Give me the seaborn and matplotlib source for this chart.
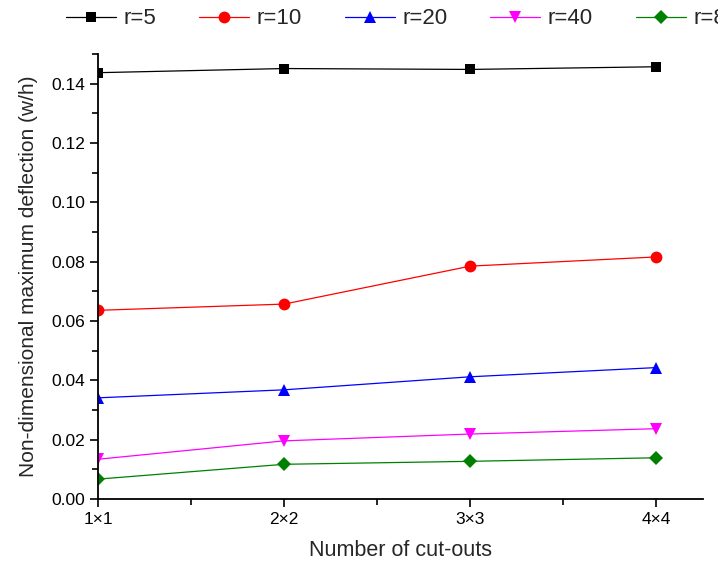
import matplotlib
matplotlib.use("Agg")
import matplotlib.pyplot as plt
from matplotlib.ticker import MultipleLocator, FormatStrFormatter
import seaborn as sns
import pandas as pd

categories = ["1×1", "2×2", "3×3", "4×4"]
series_names = ["r=5", "r=10", "r=20", "r=40", "r=80"]
r5 = [0.1437, 0.1451, 0.1448, 0.1457]
r10 = [0.0636, 0.0657, 0.0785, 0.0816]
r20 = [0.0341, 0.0368, 0.0412, 0.0443]
r40 = [0.0134, 0.0196, 0.0219, 0.0237]
r80 = [0.0067, 0.0117, 0.0127, 0.0139]
values = [r5, r10, r20, r40, r80]

colors = ["#000000", "#FF0000", "#0000FF", "#FF00FF", "#008000"]
markers = ["s", "o", "^", "v", "D"]
msizes = [7.5, 8.5, 8.5, 8.5, 7.5]

rows = []
for name, vals in zip(series_names, values):
    for i, v in enumerate(vals):
        rows.append({"pos": i, "val": v, "series": name})
df = pd.DataFrame(rows)

sns.set_style("ticks")
plt.rcParams["font.family"] = ["Liberation Sans", "DejaVu Sans"]

fig = plt.figure(figsize=(7.18, 5.63), dpi=100)
ax = fig.add_axes([98/718, 1-499/563, (703-98)/718, (499-54)/563])

for name, col, mk, ms in zip(series_names, colors, markers, msizes):
    sub = df[df["series"] == name]
    sns.lineplot(data=sub, x="pos", y="val", color=col, marker=mk,
                 markersize=ms, markeredgewidth=0, linewidth=0.9,
                 label=name, ax=ax, legend=False)

ax.set_xlim(0, 3.25)
ax.set_ylim(0, 0.15)
ax.set_xticks(range(len(categories)))
ax.set_xticklabels(categories)
ax.xaxis.set_minor_locator(MultipleLocator(0.5))
ax.yaxis.set_major_locator(MultipleLocator(0.02))
ax.yaxis.set_minor_locator(MultipleLocator(0.01))
ax.yaxis.set_major_formatter(FormatStrFormatter("%.2f"))

for side in ["top", "right"]:
    ax.spines[side].set_visible(False)
for side in ["left", "bottom"]:
    ax.spines[side].set_color("black")
    ax.spines[side].set_linewidth(1.3)

ax.tick_params(axis="both", which="major", direction="out", length=6,
               width=1.2, colors="black", labelsize=12.5)
ax.tick_params(axis="both", which="minor", direction="out", length=4,
               width=1.2, colors="black")

ax.set_xlabel("Number of cut-outs", fontsize=15.5, labelpad=9)
ax.set_ylabel("Non-dimensional maximum deflection (w/h)", fontsize=15, labelpad=9)

handles, labels = ax.get_legend_handles_labels()
fig.legend(handles, labels, loc="center left", bbox_to_anchor=(66/718, 1-19/563),
           ncol=5, frameon=False, fontsize=16, handlelength=2.25,
           handletextpad=0.32, columnspacing=1.95, borderpad=0, borderaxespad=0)

fig.savefig("out.png", dpi=100)
